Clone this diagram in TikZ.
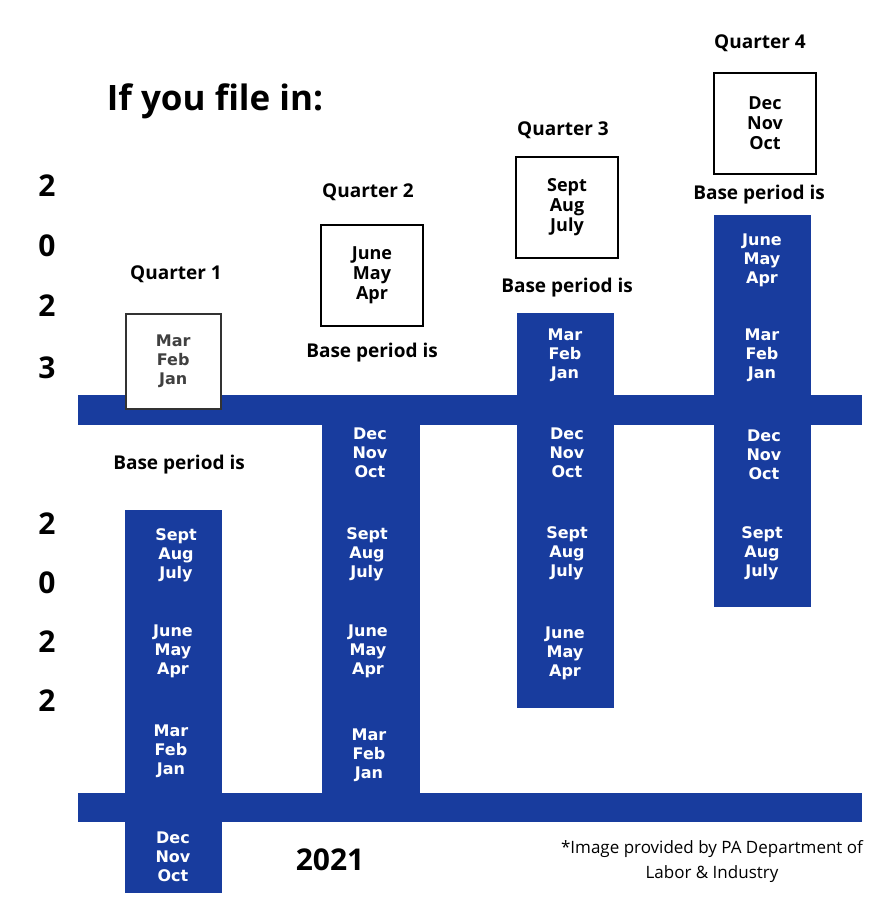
\documentclass[tikz,border=0pt]{standalone}
\usepackage{fontspec}
\setmainfont{Open Sans}
\newfontfamily\mfont{DejaVu Sans}
\definecolor{barblue}{RGB}{24,60,158}
\begin{document}
\begin{tikzpicture}[x=1pt,y=-1pt,
  bar/.style={fill=barblue,draw=none,inner sep=0,anchor=north west},
  mon/.style={text=white,font=\mfont\bfseries\fontsize{16}{19}\selectfont,align=center,inner sep=0},
  bmon/.style={text=black,font=\mfont\bfseries\fontsize{16}{19}\selectfont,align=center,inner sep=0},
  qbox/.style={draw=black,line width=2pt,fill=white,inner sep=0,anchor=north west},
  lab/.style={font=\bfseries\fontsize{19}{22}\selectfont,inner sep=0},
  yr/.style={font=\bfseries\fontsize{30}{30}\selectfont,inner sep=0},
  ob/.style={font=\bfseries\fontsize{18}{20}\selectfont,align=center,inner sep=0}]
\useasboundingbox[fill=white] (0,0) rectangle (893,917);
% bars
\node[bar,minimum width=784pt,minimum height=30pt] (topbar) at (78,395) {};
\node[bar,minimum width=784pt,minimum height=29pt] (botbar) at (78,793) {};
\node[bar,minimum width=97pt,minimum height=383pt] (c1) at (125,510) {};
\node[bar,minimum width=98pt,minimum height=400pt] (c2) at (322,410) {};
\node[bar,minimum width=97pt,minimum height=395pt] (c3) at (517,313) {};
\node[bar,minimum width=97pt,minimum height=392pt] (c4) at (714,215) {};
% column 1
\node[mon] (a1) at (176,555) {Sept\\Aug\\July};
\node[mon] (a2) at (173,651) {June\\May\\Apr};
\node[mon] (a3) at (171,751) {Mar\\Feb\\Jan};
\node[mon] (a4) at (173,857) {Dec\\Nov\\Oct};
% column 2
\node[mon] (b1) at (370,453) {Dec\\Nov\\Oct};
\node[mon] (b2) at (367,554) {Sept\\Aug\\July};
\node[mon] (b3) at (368,651) {June\\May\\Apr};
\node[mon] (b4) at (369,755) {Mar\\Feb\\Jan};
% column 3
\node[mon] (d1) at (565,355) {Mar\\Feb\\Jan};
\node[mon] (d2) at (567,453) {Dec\\Nov\\Oct};
\node[mon] (d3) at (567,553) {Sept\\Aug\\July};
\node[mon] (d4) at (565,653) {June\\May\\Apr};
% column 4
\node[mon] (e1) at (762,260) {June\\May\\Apr};
\node[mon] (e2) at (762,355) {Mar\\Feb\\Jan};
\node[mon] (e3) at (764,455) {Dec\\Nov\\Oct};
\node[mon] (e4) at (762,553) {Sept\\Aug\\July};
% white boxes
\node[qbox,line width=1.5pt,draw=black!80,minimum width=95pt,minimum height=95pt] (q1) at (125,313) {};
\node[bmon,text=black!75] at (q1.center) {Mar\\Feb\\Jan};
\node[qbox,minimum width=102pt,minimum height=101pt] (q2) at (320,224) {};
\node[ob] at (q2.center) {June\\May\\Apr};
\node[qbox,minimum width=102pt,minimum height=101pt] (q3) at (515,156) {};
\node[ob] at (q3.center) {Sept\\Aug\\July};
\node[qbox,minimum width=102pt,minimum height=101pt] (q4) at (713,72) {};
\node[ob] at (q4.center) {Dec\\Nov\\Oct};
% labels
\node[lab] (l1) at (176,274) {Quarter 1};
\node[lab] (l2) at (368,192) {Quarter 2};
\node[lab] (l3) at (563,130) {Quarter 3};
\node[lab] (l4) at (760,43) {Quarter 4};
\node[lab] (p1) at (179,465) {Base period is};
\node[lab] (p2) at (372,353) {Base period is};
\node[lab] (p3) at (567,288) {Base period is};
\node[lab] (p4) at (759,195) {Base period is};
\node[font=\bfseries\fontsize{35}{40}\selectfont,inner sep=0] (title) at (215,101) {If you file in:};
\node[yr] (y1) at (47,186) {2};
\node[yr] (y2) at (47,246) {0};
\node[yr] (y3) at (47,306) {2};
\node[yr] (y4) at (47,368) {3};
\node[yr] (z1) at (47,524) {2};
\node[yr] (z2) at (47,583) {0};
\node[yr] (z3) at (47,642) {2};
\node[yr] (z4) at (47,701) {2};
\node[yr] (y21) at (330,860) {2021};
\node[font=\fontsize{17}{25}\selectfont,align=center,inner sep=0] (note) at (712,862) {*Image provided by PA Department of\\Labor \& Industry};
\end{tikzpicture}
\end{document}
